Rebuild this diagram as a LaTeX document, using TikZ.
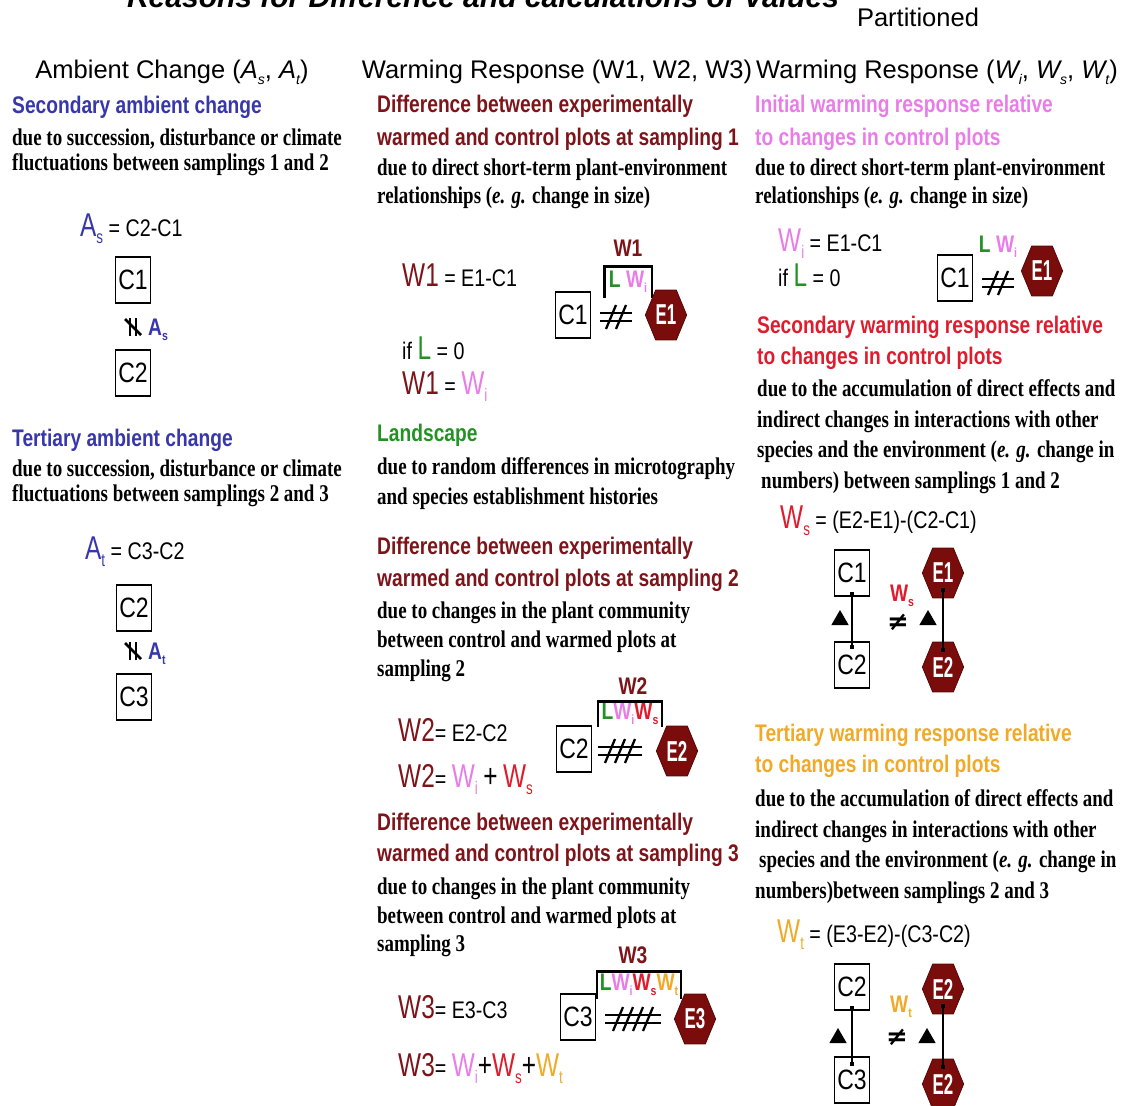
\documentclass[tikz,border=0pt]{standalone}
\usepackage{fontspec}
\setmainfont{Liberation Serif}
\newfontfamily\hdfont{Liberation Sans}
\newfontfamily\capfont[FakeStretch=0.8]{Liberation Sans}
\newfontfamily\eqfont[FakeStretch=0.82]{Liberation Sans}
\newfontfamily\bigfont[FakeStretch=0.74]{Liberation Sans}
\newfontfamily\bodyfont[FakeStretch=0.79]{Liberation Serif}
\newfontfamily\symfont{DejaVu Sans}
\usetikzlibrary{shapes.geometric,arrows.meta}

\definecolor{ambblue}{RGB}{55,55,170}
\definecolor{wdark}{RGB}{125,20,25}
\definecolor{hexred}{RGB}{122,12,12}
\definecolor{lgreen}{RGB}{35,145,35}
\definecolor{wpink}{RGB}{232,125,232}
\definecolor{wred}{RGB}{222,28,45}
\definecolor{worange}{RGB}{240,170,40}

\newcommand{\lowsub}[1]{\raisebox{-0.22em}{\scalebox{0.55}{#1}}}
\newcommand{\bigpart}[2]{{\bigfont\fontsize{33}{33}\selectfont\color{#1}#2}}

\tikzset{
  pics/npar/.style={code={
    \draw[line width=2.6pt] (-3,-9) -- (-3,9) (3,-9) -- (3,9);
    \draw[line width=2.6pt] (-8,-8) -- (8,8);}},
  pics/hashneq/.style={code={
    \draw[line width=2.3pt] (-6*#1-4,-4) -- (6*#1+4,-4) (-6*#1-4,4) -- (6*#1+4,4);
    \foreach \k in {1,...,#1}
      \draw[line width=2.3pt] ({10*\k-5*#1-10},12) -- ({10*\k-5*#1},-12);}}
}

\begin{document}
\begin{tikzpicture}[x=1pt,y=-1pt,
  colhead/.style={font=\hdfont\fontsize{25.5}{25.5}\selectfont,inner sep=0,anchor=base},
  capblock/.style={font=\capfont\bfseries\fontsize{24}{#1}\selectfont,inner sep=0,
    anchor=north west,align=left,execute at begin node=\strut},
  bodyblock/.style={font=\bodyfont\bfseries\fontsize{24}{#1}\selectfont,inner sep=0,
    anchor=north west,align=left,execute at begin node=\strut},
  eqn/.style={font=\eqfont\fontsize{24}{24}\selectfont,inner sep=0,anchor=base west},
  cbox/.style={draw,line width=1.6pt,minimum width=35pt,minimum height=46pt,inner sep=0,
    font=\eqfont\fontsize{28}{28}\selectfont},
  hexbox/.style={regular polygon,regular polygon sides=6,minimum size=48pt,inner sep=0,
    fill=hexred,draw=hexred!70!black,line width=0.8pt,xscale=0.86,yscale=1.2,
    text=white,font=\eqfont\bfseries\fontsize{24}{24}\selectfont},
  tri/.style={regular polygon,regular polygon sides=3,fill=black,minimum size=20pt,inner sep=0},
  wlabel/.style={font=\capfont\bfseries\fontsize{24}{24}\selectfont,text=wdark,inner sep=0},
  parts/.style={font=\capfont\bfseries\fontsize{24}{24}\selectfont,inner sep=0},
  brack/.style={line width=2.4pt},
  link/.style={line width=2pt,{Square[length=4pt,width=4pt]}-{Square[length=4pt,width=4pt]}},
  neqsym/.style={font=\symfont\bfseries\fontsize{26}{26}\selectfont,inner sep=0}
  ]
  \useasboundingbox (0,0) rectangle (1131,1105);
  \clip (0,0) rectangle (1131,1105);

  \node[font=\hdfont\bfseries\itshape\fontsize{30}{30}\selectfont,inner sep=0,anchor=base] (title)
    at (483,8) {Reasons for Difference and calculations of Values};

  \node[colhead] (hamb) at (172,79) {Ambient Change ({\itshape A\lowsub{s}}, {\itshape A\lowsub{t}})};
  \node[colhead] (hwarm) at (557,79) {Warming Response (W1, W2, W3)};
  \node[colhead] (hpart) at (918,27) {Partitioned};
  \node[colhead] (hpart2) at (937,79) {Warming Response ({\itshape W\lowsub{i}}, {\itshape W\lowsub{s}}, {\itshape W\lowsub{t}})};

  % ambient change
  \node[capblock=32,text=ambblue] (secamb) at (12,91) {Secondary ambient change};
  \node[bodyblock=25] (secambtxt) at (12,129) {due to succession, disturbance or climate\\fluctuations between samplings 1 and 2};
  \node[eqn] (aseq) at (80,236) {\bigpart{ambblue}{A\lowsub{s}} = C2-C1};
  \node[cbox] (c1amb) at (133,280) {C1};
  \pic at (133,327) {npar};
  \node[parts,text=ambblue,anchor=base west] (aslbl) at (148,335) {A\lowsub{s}};
  \node[cbox] (c2amb) at (133,373) {C2};

  \node[capblock=32,text=ambblue] (teramb) at (12,424) {Tertiary ambient change};
  \node[bodyblock=25] (terambtxt) at (12,460) {due to succession, disturbance or climate\\fluctuations between samplings 2 and 3};
  \node[eqn] (ateq) at (85,559) {\bigpart{ambblue}{A\lowsub{t}} = C3-C2};
  \node[cbox] (c2ambb) at (134,608) {C2};
  \pic at (133,651) {npar};
  \node[parts,text=ambblue,anchor=base west] (atlbl) at (148,659) {A\lowsub{t}};
  \node[cbox] (c3amb) at (134,697) {C3};

  % warming response
  \node[capblock=33,text=wdark] (dif1) at (377,95) {Difference between experimentally\\warmed and control plots at sampling 1};
  \node[bodyblock=28] (dif1txt) at (377,159) {due to direct short-term plant-environment\\relationships ({\itshape e. g.} change in size)};
  \node[wlabel] (w1lbl) at (628,248) {W1};
  \node[parts,minimum width=47pt,minimum height=31pt] (lw1) at (628,282) {\textcolor{lgreen}{L} \textcolor{wpink}{W\lowsub{i}}};
  \draw[brack] (lw1.south west) |- (lw1.north east) -- (lw1.south east);
  \node[eqn] (w1eq) at (402,286) {\bigpart{wdark}{W1} = E1-C1};
  \node[cbox] (c1w) at (573,315) {C1};
  \pic at (616,317) {hashneq=2};
  \node[hexbox] (e1w) at (666,315) {E1};
  \node[eqn] (w1if) at (402,359) {if \bigpart{lgreen}{L} = 0};
  \node[eqn] (w1eqb) at (402,394) {\bigpart{wdark}{W1} = \bigpart{wpink}{W\lowsub{i}}};

  \node[capblock=32,text=lgreen] (land) at (377,419) {Landscape};
  \node[bodyblock=30] (landtxt) at (377,457) {due to random differences in microtography\\and species establishment histories};

  \node[capblock=32,text=wdark] (dif2) at (377,536.5) {Difference between experimentally\\warmed and control plots at sampling 2};
  \node[bodyblock=29] (dif2txt) at (377,601.5) {due to changes in the plant community\\between control and warmed plots at\\sampling 2};
  \node[wlabel] (w2lbl) at (633,686) {W2};
  \node[parts,minimum width=64pt,minimum height=25pt] (lw2) at (630,714) {\textcolor{lgreen}{L}\textcolor{wpink}{W\lowsub{i}}\textcolor{wred}{W\lowsub{s}}};
  \draw[brack] (lw2.south west) |- (lw2.north east) -- (lw2.south east);
  \node[eqn] (w2eq) at (398,741) {\bigpart{wdark}{W2}= E2-C2};
  \node[cbox] (c2w) at (574,749) {C2};
  \pic at (620,751) {hashneq=3};
  \node[hexbox] (e2w) at (677,751) {E2};
  \node[eqn] (w2eqb) at (398,787) {\bigpart{wdark}{W2}= \bigpart{wpink}{W\lowsub{i}} \bigpart{black}{+} \bigpart{wred}{W\lowsub{s}}};

  \node[capblock=31,text=wdark] (dif3) at (377,813) {Difference between experimentally\\warmed and control plots at sampling 3};
  \node[bodyblock=28.5] (dif3txt) at (377,878) {due to changes in the plant community\\between control and warmed plots at\\sampling 3};
  \node[wlabel] (w3lbl) at (633,955) {W3};
  \node[parts,minimum width=84pt,minimum height=27pt] (lw3) at (639,985) {\textcolor{lgreen}{L}\textcolor{wpink}{W\lowsub{i}}\textcolor{wred}{W\lowsub{s}}\textcolor{worange}{W\lowsub{t}}};
  \draw[brack] (lw3.south west) |- (lw3.north east) -- (lw3.south east);
  \node[eqn] (w3eq) at (398,1018) {\bigpart{wdark}{W3}= E3-C3};
  \node[cbox] (c3w) at (578,1017) {C3};
  \pic at (633,1019) {hashneq=4};
  \node[hexbox] (e3w) at (695,1019) {E3};
  \node[eqn] (w3eqb) at (398,1076) {\bigpart{wdark}{W3}= \bigpart{wpink}{W\lowsub{i}}\bigpart{black}{+}\bigpart{wred}{W\lowsub{s}}\bigpart{black}{+}\bigpart{worange}{W\lowsub{t}}};

  % partitioned warming response
  \node[capblock=33,text=wpink] (init) at (755,95) {Initial warming response relative\\to changes in control plots};
  \node[bodyblock=28] (inittxt) at (755,159) {due to direct short-term plant-environment\\relationships ({\itshape e. g.} change in size)};
  \node[eqn] (wieq) at (778,251) {\bigpart{wpink}{W\lowsub{i}} = E1-C1};
  \node[eqn] (wiif) at (778,286) {if \bigpart{lgreen}{L} = 0};
  \node[cbox] (c1p) at (955,278) {C1};
  \pic at (998,283) {hashneq=2};
  \node[parts] (lwp) at (998,247) {\textcolor{lgreen}{L} \textcolor{wpink}{W\lowsub{i}}};
  \node[hexbox] (e1p) at (1042,271) {E1};

  \node[capblock=31,text=wred] (secw) at (757,316) {Secondary warming response relative\\to changes in control plots};
  \node[bodyblock=30.5] (secwtxt) at (757,379.5) {due to the accumulation of direct effects and\\indirect changes in interactions with other\\species and the environment ({\itshape e. g.} change in\\\hspace{4pt}numbers) between samplings 1 and 2};
  \node[eqn] (wseq) at (780,528) {\bigpart{wred}{W\lowsub{s}} = (E2-E1)-(C2-C1)};
  \node[cbox] (c1s) at (852,573) {C1};
  \node[cbox] (c2s) at (852,665) {C2};
  \node[hexbox] (e1s) at (943,573) {E1};
  \node[hexbox] (e2s) at (943,667) {E2};
  \draw[link] ([yshift=5pt]c1s.south) -- ([yshift=-8pt]c2s.north);
  \draw[link] ([yshift=-15pt]e1s.center) -- ([yshift=15pt]e2s.center);
  \node[tri] (tri1s) at (840,620) {};
  \node[tri] (tri2s) at (928,620) {};
  \node[neqsym] (neqs) at (898,622) {≠};
  \node[parts,text=wred] (wslbl) at (902,596) {W\lowsub{s}};

  \node[capblock=31,text=worange] (terw) at (755,724) {Tertiary warming response relative\\to changes in control plots};
  \node[bodyblock=30.5] (terwtxt) at (755,789.5) {due to the accumulation of direct effects and\\indirect changes in interactions with other\\\hspace{4pt}species and the environment ({\itshape e. g.} change in\\numbers)between samplings 2 and 3};
  \node[eqn] (wteq) at (777,942) {\bigpart{worange}{W\lowsub{t}} = (E3-E2)-(C3-C2)};
  \node[cbox] (c2t) at (852,987) {C2};
  \node[cbox] (c3t) at (852,1080) {C3};
  \node[hexbox] (e2t) at (943,989) {E2};
  \node[hexbox] (e2tb) at (943,1084) {E2};
  \draw[link] ([yshift=5pt]c2t.south) -- ([yshift=-10pt]c3t.north);
  \draw[link] ([yshift=-15pt]e2t.center) -- ([yshift=15pt]e2tb.center);
  \node[tri] (tri1t) at (838,1038) {};
  \node[tri] (tri2t) at (927,1038) {};
  \node[neqsym] (neqt) at (897,1037) {≠};
  \node[parts,text=worange] (wtlbl) at (901,1007) {W\lowsub{t}};
\end{tikzpicture}
\end{document}
